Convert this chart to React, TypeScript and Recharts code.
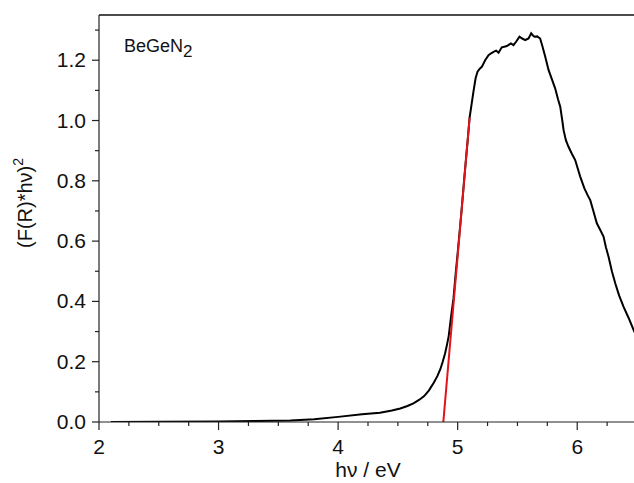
import { LineChart, Line, XAxis, YAxis, ReferenceLine } from "recharts";

const FONT = "'Liberation Sans', Arial, sans-serif";

// measured spectrum, photon energy (eV) vs (F(R)*hv)^2
const energy = [
  2.1, 2.5, 3.0, 3.3, 3.6, 3.8, 4.0, 4.2, 4.35, 4.45, 4.52, 4.58, 4.63, 4.68,
  4.72, 4.76, 4.8, 4.83, 4.855, 4.875, 4.895, 4.91, 4.925, 4.945, 4.965, 4.985,
  5.0, 5.03, 5.06, 5.085, 5.1, 5.115, 5.132, 5.15, 5.166, 5.185, 5.202, 5.23,
  5.258, 5.28, 5.3, 5.322, 5.342, 5.369, 5.39, 5.411, 5.43, 5.445, 5.467, 5.49,
  5.517, 5.54, 5.565, 5.593, 5.615, 5.63, 5.643, 5.665, 5.69, 5.71, 5.732, 5.76,
  5.79, 5.816, 5.84, 5.858, 5.875, 5.886, 5.905, 5.927, 5.955, 5.983, 6.005,
  6.025, 6.06, 6.09, 6.109, 6.135, 6.164, 6.195, 6.22, 6.24, 6.262, 6.29, 6.318,
  6.35, 6.388, 6.43, 6.472, 6.5,
];
const absorbance = [
  0, 0.001, 0.002, 0.003, 0.005, 0.009, 0.017, 0.026, 0.031, 0.038, 0.045,
  0.053, 0.062, 0.074, 0.086, 0.105, 0.13, 0.152, 0.175, 0.2, 0.228, 0.255,
  0.285, 0.35, 0.41, 0.5, 0.56, 0.69, 0.83, 0.94, 1.01, 1.05, 1.096, 1.14,
  1.162, 1.172, 1.178, 1.2, 1.217, 1.223, 1.228, 1.232, 1.225, 1.243, 1.245,
  1.247, 1.252, 1.256, 1.25, 1.262, 1.278, 1.272, 1.267, 1.272, 1.289, 1.282,
  1.278, 1.279, 1.272, 1.245, 1.212, 1.168, 1.135, 1.106, 1.07, 1.046, 1.0,
  0.968, 0.935, 0.913, 0.89, 0.869, 0.84, 0.814, 0.775, 0.75, 0.736, 0.7, 0.659,
  0.635, 0.615, 0.58, 0.548, 0.5, 0.46, 0.42, 0.382, 0.345, 0.305, 0.28,
];

// linear fit of the absorption edge
const fitEnergy = [4.88, 5.1];
const fitValue = [0, 1.01];

const xTicks = [
  2, 2.25, 2.5, 2.75, 3, 3.25, 3.5, 3.75, 4, 4.25, 4.5, 4.75, 5, 5.25, 5.5,
  5.75, 6, 6.25, 6.5,
];
const yTicks = [0, 0.1, 0.2, 0.3, 0.4, 0.5, 0.6, 0.7, 0.8, 0.9, 1.0, 1.1, 1.2, 1.3];

const curve = energy.map((x, i) => ({ x, y: absorbance[i] }));
const fit = fitEnergy.map((x, i) => ({ x, y: fitValue[i] }));

function XTick({ x, y, payload }: any) {
  const v = payload.value;
  const major = Number.isInteger(v);
  return (
    <g>
      <line x1={x} x2={x} y1={y} y2={y + (major ? 8 : 4)} stroke="#222" strokeWidth={1.2} />
      {major && (
        <text x={x} y={y + 32} textAnchor="middle" fontSize={21} fontFamily={FONT} fill="#111">
          {v}
        </text>
      )}
    </g>
  );
}

function YTick({ x, y, payload }: any) {
  const v = payload.value;
  const major = Math.round(v * 10) % 2 === 0;
  return (
    <g>
      <line x1={x} x2={x - (major ? 7 : 4)} y1={y} y2={y} stroke="#222" strokeWidth={1.2} />
      {major && (
        <text x={x - 13} y={y + 7} textAnchor="end" fontSize={21} fontFamily={FONT} fill="#111">
          {v.toFixed(1)}
        </text>
      )}
    </g>
  );
}

function YLabel() {
  return (
    <text transform="translate(32,203) rotate(-90)" textAnchor="middle" fontSize={20} fontFamily={FONT} fill="#111">
      (F(R)*h{"\u03bd"})<tspan dy={-9} fontSize={14}>2</tspan>
    </text>
  );
}

function XLabel() {
  return (
    <text x={368} y={477} textAnchor="middle" fontSize={21} fontFamily={FONT} fill="#111">
      h{"\u03bd"} / eV
    </text>
  );
}

function Annotation() {
  return (
    <text x={124} y={52} fontSize={18} fontFamily={FONT} fill="#111">
      BeGeN<tspan dy={5} fontSize={17}>2</tspan>
    </text>
  );
}

export default function App() {
  return (
    <div
      style={{
        position: "fixed",
        top: 0,
        left: 0,
        width: 634,
        height: 483,
        overflow: "hidden",
        background: "#fff",
      }}
    >
      <LineChart width={660} height={483} margin={{ top: 15, right: 23, bottom: 21, left: 39 }}>
        <XAxis
          type="number"
          dataKey="x"
          domain={[2, 6.5]}
          ticks={xTicks}
          interval={0}
          allowDataOverflow
          height={40}
          tickLine={false}
          tickSize={0}
          tickMargin={0}
          tick={(p: any) => <XTick {...p} />}
          axisLine={{ stroke: "#222", strokeWidth: 1.2 }}
          label={<XLabel />}
        />
        <YAxis
          type="number"
          dataKey="y"
          domain={[0, 1.35]}
          ticks={yTicks}
          interval={0}
          allowDataOverflow
          width={60}
          tickLine={false}
          tickSize={0}
          tickMargin={0}
          tick={(p: any) => <YTick {...p} />}
          axisLine={{ stroke: "#222", strokeWidth: 1.2 }}
          label={<YLabel />}
        />
        <ReferenceLine y={1.35} stroke="#111" strokeWidth={1.5} label={<Annotation />} />
        <Line
          data={curve}
          dataKey="y"
          type="linear"
          stroke="#000"
          strokeWidth={2}
          dot={false}
          isAnimationActive={false}
        />
        <Line
          data={fit}
          dataKey="y"
          type="linear"
          stroke="#e0141a"
          strokeWidth={2}
          dot={false}
          isAnimationActive={false}
        />
      </LineChart>
    </div>
  );
}
